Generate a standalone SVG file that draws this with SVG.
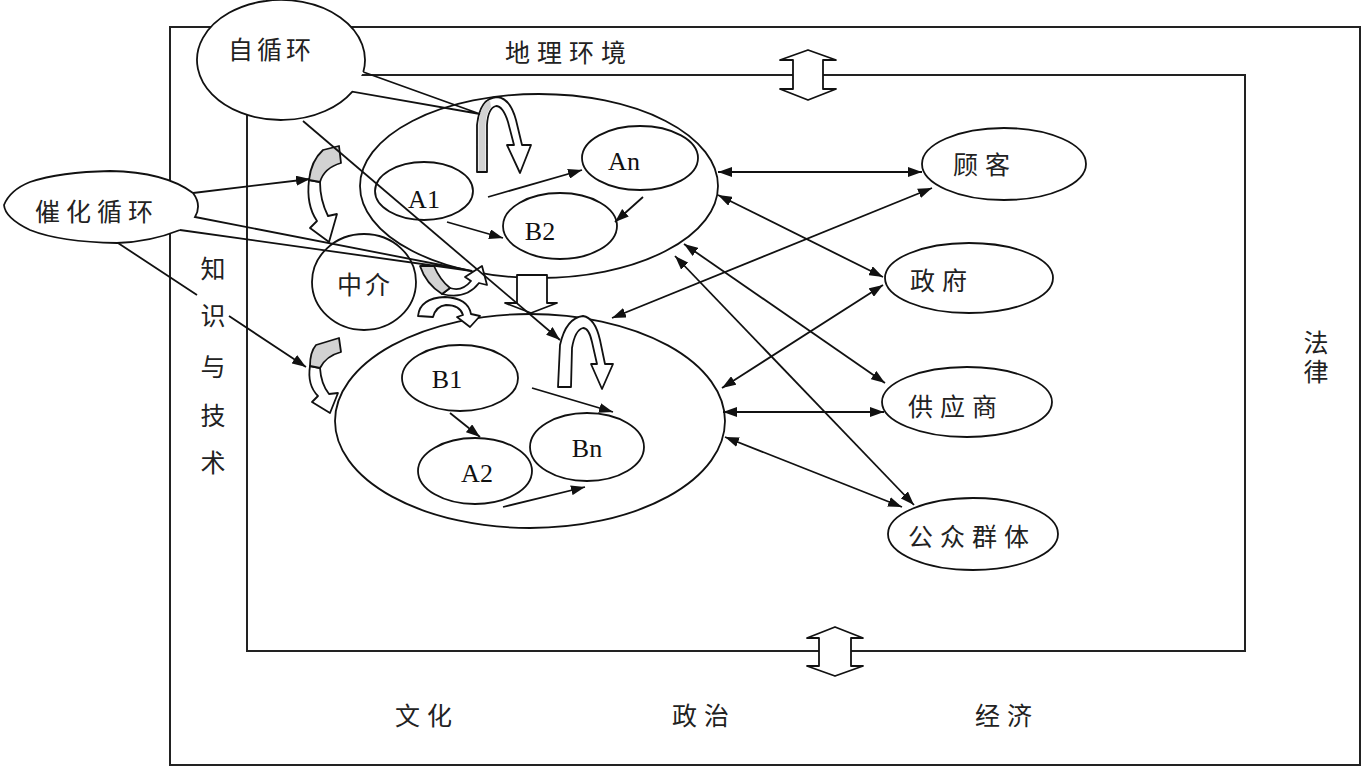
<svg xmlns="http://www.w3.org/2000/svg" width="1367" height="769" viewBox="0 0 1367 769">
<defs>
<style>
.ln{fill:none;stroke:#111;stroke-width:1.8}
.frame{fill:none;stroke:#222;stroke-width:2}
.el{fill:none;stroke:#111;stroke-width:1.8}
.elw{fill:#fff;stroke:#111;stroke-width:1.8}
.hol{fill:#fff;stroke:#111;stroke-width:1.8;stroke-linejoin:round}
.gry{fill:#d2d2d2;stroke:#111;stroke-width:1.8;stroke-linejoin:round}
.zh{font-family:"Liberation Serif","Noto Sans CJK SC",serif;font-size:25px;fill:#222;letter-spacing:7px}
.lt{font-family:"Liberation Serif",serif;font-size:26px;fill:#111;text-anchor:middle}
</style>
<marker id="ah" viewBox="0 0 14 10" refX="14" refY="5" markerWidth="14" markerHeight="10" orient="auto-start-reverse" markerUnits="userSpaceOnUse"><path d="M0,0 L14,5 L0,10 Z" fill="#111"/></marker>
</defs>

<g id="frame">
<rect class="frame" x="170" y="27" width="1190" height="738"/>
<rect class="frame" x="247" y="75" width="998" height="576"/>
<path id="arrow-top" class="hol" d="M808,50 L836,60 L823,60 L823,89 L836,89 L808,100 L780,89 L793,89 L793,60 L780,60 Z"/>
<path id="arrow-bottom" class="hol" d="M835,627 L863,638 L851,638 L851,666 L863,666 L835,676 L807,666 L819,666 L819,638 L807,638 Z"/>
<text class="zh" x="505" y="62">地理环境</text>
<text class="zh" x="395" y="725">文化</text>
<text class="zh" x="672" y="725">政治</text>
<text class="zh" x="975" y="725">经济</text>
<g class="zh" text-anchor="middle" style="letter-spacing:0">
<text x="1316" y="352">法</text>
<text x="1316" y="381">律</text>
</g>
</g>

<g id="knowledge">
<g class="zh" text-anchor="middle" style="letter-spacing:0">
<text x="213" y="278">知</text>
<text x="213" y="325">识</text>
<text x="213" y="376">与</text>
<text x="213" y="425">技</text>
<text x="213" y="472">术</text>
</g>
</g>

<g id="org-upper">
<ellipse class="el" cx="539" cy="186" rx="179" ry="92"/>
</g>
<g id="org-lower">
<ellipse class="el" cx="530" cy="421" rx="195" ry="107"/>
</g>

<g id="node-A1"><ellipse class="el" cx="424" cy="191" rx="49" ry="29"/><text class="lt" x="424" y="208">A1</text></g>
<g id="node-An"><ellipse class="el" cx="640" cy="158" rx="58" ry="32"/><text class="lt" x="624" y="170">An</text></g>
<g id="node-B2"><ellipse class="el" cx="560" cy="226" rx="57" ry="33"/><text class="lt" x="540" y="240">B2</text></g>
<g id="node-B1"><ellipse class="el" cx="460" cy="378" rx="58" ry="33"/><text class="lt" x="447" y="388">B1</text></g>
<g id="node-A2"><ellipse class="el" cx="475" cy="471" rx="57" ry="33"/><text class="lt" x="477" y="482">A2</text></g>
<g id="node-Bn"><ellipse class="el" cx="587" cy="447" rx="57" ry="34"/><text class="lt" x="587" y="457">Bn</text></g>
<g id="node-zhongjie"><ellipse class="el" cx="364" cy="282" rx="52" ry="48"/><text class="zh" x="337" y="294" style="letter-spacing:3px">中介</text></g>

<g id="node-guke"><ellipse class="elw" cx="1004" cy="164" rx="82" ry="36"/><text class="zh" x="953" y="174">顾客</text></g>
<g id="node-zhengfu"><ellipse class="elw" cx="969" cy="278" rx="84" ry="35"/><text class="zh" x="910" y="290">政府</text></g>
<g id="node-gongyingshang"><ellipse class="elw" cx="967" cy="402" rx="85" ry="35"/><text class="zh" x="908" y="416">供应商</text></g>
<g id="node-gongzhong"><ellipse class="elw" cx="973" cy="534" rx="85" ry="36"/><text class="zh" x="908" y="546">公众群体</text></g>

<g id="cycle-arrows">
<path class="hol" d="M477,172 L477,125 Q480,98 497,97 Q510,98 516,120 L522,145 L531,145 L520,173 L507,145 L514,145 L508,122 Q503,106 496,106 Q488,108 487,125 L487,172 Z"/>
<path d="M478.5,171 L478.5,125 Q480,104 490,100 L491,107 Q486,113 485.5,125 L485.5,171 Z" fill="#d2d2d2"/>
<path class="hol" d="M558,387 L560,345 Q566,318 583,316 Q595,318 600,340 L605,364 L613,364 L602,389 L591,364 L597,364 L592,342 Q589,328 583,328 Q575,330 572,348 L571,387 Z"/>
<path class="hol" d="M309,180 Q306,205 317,221 L310,228 L329,242 L337,214 L328,216 Q320,200 320,182 Z"/>
<path class="gry" d="M323,150 L339,146 L341,163 Q324,168 320,182 L309,180 Q311,161 323,150 Z"/>
<path class="hol" d="M310,366 Q307,385 318,396 L312,402 L330,413 L338,393 L329,394 Q321,384 320,368 Z"/>
<path class="gry" d="M316,345 L339,338 L341,352 Q326,356 320,368 L310,366 Q310,352 316,345 Z"/>
<path class="hol" d="M450,288 Q462,292 471,281 L465,277 L482,266 L487,285 L479,283 Q466,300 442,294 Z"/>
<path class="gry" d="M420,266 L434,266 Q440,280 450,288 L442,294 Q426,284 420,266 Z"/>
<path class="hol" d="M418,316 Q420,298 445,297 Q468,298 471,314 L480,316 L470,327 L457,317 L463,315 Q460,305 446,305 Q436,306 433,317 Z"/>
<path class="hol" d="M517,275 L547,275 L547,303 L557,303 L531,313 L505,303 L517,303 Z"/>
</g>

<g id="callout-zixunhuan">
<path d="M363.3,72 A84,60 0 1,0 352.4,91.6 Z" fill="#fff"/>
<path class="ln" d="M363.3,72 A84,60 0 1,0 352.4,91.6 L480,114 L363.3,72"/>
<text class="zh" x="228" y="59" style="letter-spacing:4px">自循环</text>
</g>

<g id="callout-cuihua">
<path d="M195,217 L180,230 Q150,242 117,243 Q60,242 30,230 Q5,218 4,205 Q10,190 30,182 Q60,172 110,171 Q165,172 193,193 Q202,205 195,217 Z" fill="#fff"/>
<path class="ln" d="M180,230 Q150,242 117,243 Q60,242 30,230 Q5,218 4,205 Q10,190 30,182 Q60,172 110,171 Q165,172 193,193 Q202,205 195,217 L472,271 L180,230"/>
<text class="zh" x="35" y="221" style="letter-spacing:6px">催化循环</text>
</g>

<g id="connectors">
<path class="ln" marker-end="url(#ah)" d="M488,197 L582,170"/>
<path class="ln" marker-end="url(#ah)" d="M447,222 L503,238"/>
<path class="ln" marker-end="url(#ah)" d="M643,197 L615,222"/>
<path class="ln" marker-end="url(#ah)" d="M450,413 L480,437"/>
<path class="ln" marker-end="url(#ah)" d="M532,388 L613,412"/>
<path class="ln" marker-end="url(#ah)" d="M503,507 L585,487"/>
<path class="ln" marker-end="url(#ah)" d="M193,193 L310,179"/>
<path class="ln" marker-end="url(#ah)" d="M118,243 L197,295 M229,316 L306,367"/>
<path class="ln" marker-end="url(#ah)" d="M303,121 L560,340"/>
<path class="ln" marker-start="url(#ah)" marker-end="url(#ah)" d="M718,172 L922,172"/>
<path class="ln" marker-start="url(#ah)" marker-end="url(#ah)" d="M718,195 L883,277"/>
<path class="ln" marker-start="url(#ah)" marker-end="url(#ah)" d="M612,318 L932,188"/>
<path class="ln" marker-start="url(#ah)" marker-end="url(#ah)" d="M722,388 L883,285"/>
<path class="ln" marker-start="url(#ah)" marker-end="url(#ah)" d="M684,244 L885,383"/>
<path class="ln" marker-start="url(#ah)" marker-end="url(#ah)" d="M675,256 L914,505"/>
<path class="ln" marker-start="url(#ah)" marker-end="url(#ah)" d="M725,437 L902,507"/>
<path class="ln" marker-start="url(#ah)" marker-end="url(#ah)" d="M723,412 L884,412"/>
</g>
</svg>
